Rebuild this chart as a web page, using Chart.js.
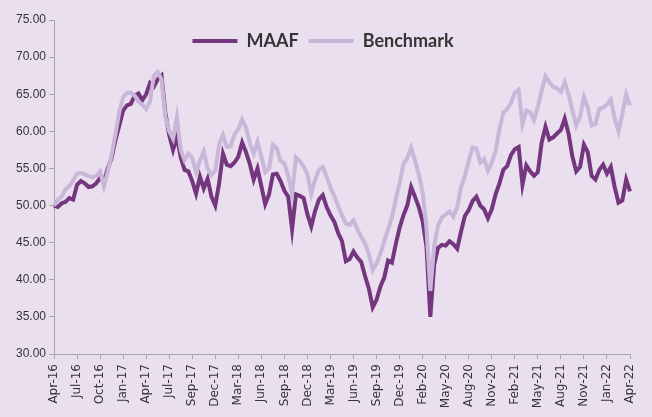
<!DOCTYPE html>
<html>
<head>
<meta charset="utf-8">
<script src="https://cdn.jsdelivr.net/npm/chart.js@4/dist/chart.umd.min.js"></script>
<style>
  html, body { margin: 0; padding: 0; background: #EADFEE; }
  #c { display: block; }
</style>
</head>
<body>
<canvas id="c" width="652" height="417"></canvas>
<script>
// Tick labels shown on the category axis (one every 6 data points)
const tickLabels = ['Apr-16','Jul-16','Oct-16','Jan-17','Apr-17','Jul-17','Sep-17','Dec-17','Mar-18','Jun-18','Sep-18','Dec-18','Mar-19','Jun-19','Sep-19','Dec-19','Feb-20','May-20','Aug-20','Nov-20','Feb-21','May-21','Aug-21','Nov-21','Jan-22','Apr-22'];
const pointsPerLabel = 6;

// MAAF values
const maaf = [
  50.0,49.8,50.3,50.5,51.0,50.8,52.8,53.3,53.0,52.5,52.6,53.0,
  53.7,53.2,55.0,56.4,58.8,60.8,62.8,63.5,63.7,64.8,65.1,64.2,
  65.0,66.5,66.0,67.0,67.5,62.5,59.5,57.5,59.3,56.5,54.8,54.6,
  53.3,51.6,53.9,52.3,53.6,51.2,50.0,53.0,57.0,55.5,55.3,55.8,
  56.6,58.5,57.2,55.6,53.5,55.0,52.6,50.2,51.5,54.2,54.3,53.3,
  52.0,51.2,46.8,51.5,51.3,51.0,48.8,47.2,49.3,50.8,51.4,49.8,
  48.7,47.8,46.3,45.2,42.5,42.8,43.8,43.0,42.4,40.5,38.8,36.3,
  37.3,39.1,40.3,42.6,42.3,44.8,47.0,48.7,50.0,52.5,51.2,49.8,
  47.9,44.5,35.0,42.0,44.3,44.7,44.6,45.2,44.8,44.2,46.5,48.6,
  49.4,50.6,51.2,50.0,49.5,48.3,49.5,51.5,53.0,54.8,55.3,56.8,
  57.6,57.9,52.8,55.4,54.6,54.0,54.5,58.5,60.6,58.9,59.2,59.7,
  60.2,61.7,59.7,56.6,54.6,55.2,58.2,57.2,54.0,53.5,54.8,55.5,
  54.3,55.2,52.5,50.4,50.7,53.5,51.9
];

// Benchmark values
const benchmark = [
  50.0,50.8,51.2,52.2,52.6,53.4,54.3,54.4,54.2,54.0,53.8,54.0,
  54.6,52.6,54.6,56.8,59.6,62.6,64.6,65.2,65.2,64.8,64.0,63.6,
  63.0,64.0,67.5,68.0,67.0,62.0,60.0,59.0,61.9,57.5,56.1,57.0,
  56.4,54.5,56.0,57.3,55.0,54.1,54.7,58.3,59.5,57.9,58.0,59.6,
  60.3,61.6,60.5,58.4,57.0,58.6,56.5,54.5,55.0,58.2,57.7,56.0,
  55.7,54.0,51.5,56.5,56.0,55.3,54.2,51.6,53.5,54.8,55.2,53.9,
  52.4,51.3,49.9,48.7,47.6,47.4,48.0,46.8,45.8,44.9,43.5,41.3,
  42.2,43.5,45.2,46.8,48.4,50.8,53.0,55.6,56.4,57.8,56.1,54.2,
  51.8,47.0,38.5,44.5,47.3,48.4,48.8,49.2,48.5,49.8,52.5,54.0,
  56.0,57.8,57.7,55.8,56.3,54.7,55.8,57.3,60.3,62.5,63.0,63.8,
  65.2,65.6,61.0,62.8,62.6,61.5,63.3,65.5,67.4,66.6,66.0,65.8,
  65.3,66.6,65.0,62.8,60.8,62.0,64.6,63.2,60.8,61.0,63.0,63.2,
  63.6,64.3,61.8,60.0,62.3,65.0,63.5
];

const categories = maaf.map((_, i) => i);

const axisGrey = '#A6A6A6';
const textColor = '#353535';

const bgPlugin = {
  id: 'bg',
  beforeDraw(chart) {
    const ctx = chart.ctx;
    ctx.save();
    ctx.fillStyle = '#EADFEE';
    ctx.fillRect(0, 0, chart.width, chart.height);
    ctx.restore();
  }
};

// Legend overlays the plot area (takes no layout space)
const legendOverlay = {
  id: 'legendOverlay',
  beforeLayout(chart) {
    const lg = chart.legend;
    if (lg && !lg._patched) {
      const f = lg.fit;
      lg.fit = function () { f.call(this); this.height = 0; };
      lg._patched = true;
    }
  },
  afterLayout(chart) {
    const lg = chart.legend;
    if (lg) {
      lg.top = 22;
      lg.height = 40;
      lg.bottom = 62;
      lg.left = 0;
      lg.right = 646;
      lg.width = 646;
    }
  }
};

new Chart(document.getElementById('c'), {
  type: 'line',
  data: {
    labels: categories,
    datasets: [
      {
        label: 'MAAF',
        data: maaf,
        borderColor: '#74367F',
        backgroundColor: '#74367F',
        borderWidth: 4,
        pointRadius: 0,
        tension: 0,
        order: 1
      },
      {
        label: 'Benchmark',
        data: benchmark,
        borderColor: '#C9B6D8',
        backgroundColor: '#C9B6D8',
        borderWidth: 4,
        pointRadius: 0,
        tension: 0,
        order: 0
      }
    ]
  },
  options: {
    responsive: false,
    animation: false,
    layout: { padding: { top: 20, right: 22, left: 0, bottom: 0 } },
    plugins: {
      tooltip: { enabled: false },
      legend: {
        position: 'top',
        align: 'center',
        labels: {
          usePointStyle: true,
          pointStyle: 'line',
          pointStyleWidth: 45,
          padding: 10,
          color: textColor,
          font: { family: 'Lato', weight: 'bold', size: 18 },
          sort: (a, b) => a.datasetIndex - b.datasetIndex
        }
      }
    },
    scales: {
      x: {
        type: 'category',
        offset: false,
        afterFit(scale) { scale.height = 63; },
        grid: {
          display: true,
          drawOnChartArea: false,
          drawTicks: true,
          tickLength: 5,
          color: (ctx) => (ctx.index % pointsPerLabel === 0 ? axisGrey : 'rgba(0,0,0,0)')
        },
        border: { display: true, color: axisGrey, width: 1 },
        ticks: {
          autoSkip: false,
          maxRotation: 90,
          minRotation: 90,
          padding: 5,
          color: textColor,
          font: { family: 'DejaVu Sans', size: 12 },
          callback: (v, i) => (i % pointsPerLabel === 0 ? tickLabels[i / pointsPerLabel] : '')
        }
      },
      y: {
        min: 30,
        max: 75,
        afterFit(scale) { scale.width = 54; },
        grid: {
          display: true,
          drawOnChartArea: false,
          drawTicks: true,
          tickLength: 5,
          color: axisGrey
        },
        border: { display: true, color: axisGrey, width: 1 },
        ticks: {
          stepSize: 5,
          padding: 3,
          color: textColor,
          font: { family: "'Liberation Sans Narrow', 'Liberation Sans'", size: 12 },
          callback: (v) => Number(v).toFixed(2)
        }
      }
    }
  },
  plugins: [bgPlugin, legendOverlay]
});
</script>
</body>
</html>
